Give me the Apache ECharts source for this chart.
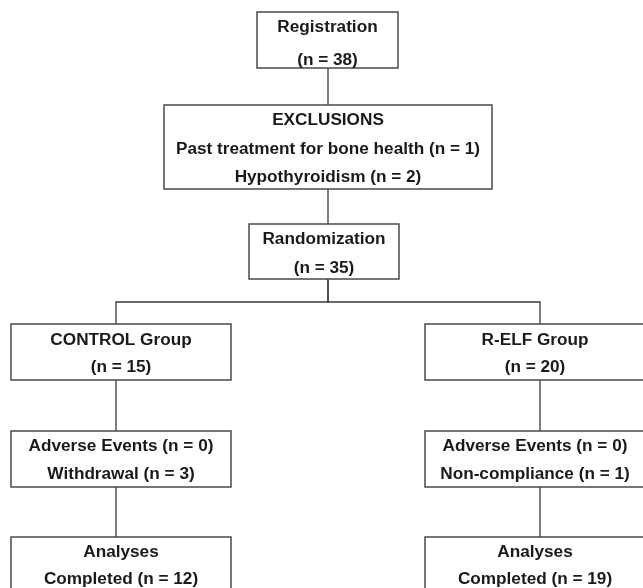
<!DOCTYPE html>
<html>
<head>
<meta charset="utf-8">
<title>Flow chart</title>
<script src="https://cdn.jsdelivr.net/npm/echarts@6/dist/echarts.min.js"></script>
<style>
  html, body { margin: 0; padding: 0; background: #fff; }
  #chart { width: 643px; height: 588px; }
</style>
</head>
<body>
<div id="chart"></div>
<script>
// study numbers
const registered = 38
const exclusionReasons = ['Past treatment for bone health', 'Hypothyroidism']
const exclusionCounts = [1, 2]
const randomized = 35
const groupNames = ['CONTROL Group', 'R-ELF Group']
const groupSizes = [15, 20]
const adverseEvents = [0, 0]
const dropoutReasons = ['Withdrawal', 'Non-compliance']
const dropoutCounts = [3, 1]
const completedCounts = [12, 19]

const n = (v) => '(n = ' + v + ')'

// text of every box, in the same order as the layout below
const nodeTexts = [
  ['Registration', n(registered)],
  ['EXCLUSIONS'].concat(exclusionReasons.map((r, i) => r + ' ' + n(exclusionCounts[i]))),
  ['Randomization', n(randomized)],
  [groupNames[0], n(groupSizes[0])],
  [groupNames[1], n(groupSizes[1])],
  ['Adverse Events ' + n(adverseEvents[0]), dropoutReasons[0] + ' ' + n(dropoutCounts[0])],
  ['Adverse Events ' + n(adverseEvents[1]), dropoutReasons[1] + ' ' + n(dropoutCounts[1])],
  ['Analyses', 'Completed ' + n(completedCounts[0])],
  ['Analyses', 'Completed ' + n(completedCounts[1])]
]

// layout (pixel space of the hidden axes): box edges, line height, text shift
const layout = [
  { x0: 257, x1: 398, y0: 12, y1: 68, lh: 33, dy: 3.5, col: 'mid' },
  { x0: 164, x1: 492, y0: 105, y1: 189, lh: 28.5, dy: 2, col: 'mid' },
  { x0: 249, x1: 399, y0: 224, y1: 279, lh: 29, dy: 2, col: 'mid' },
  { x0: 11, x1: 231, y0: 324, y1: 380, lh: 27, dy: 1.5, col: 'left' },
  { x0: 425, x1: 645, y0: 324, y1: 380, lh: 27, dy: 1.5, col: 'right' },
  { x0: 11, x1: 231, y0: 431, y1: 487, lh: 28, dy: 1.5, col: 'left' },
  { x0: 425, x1: 645, y0: 431, y1: 487, lh: 28, dy: 1.5, col: 'right' },
  { x0: 11, x1: 231, y0: 537, y1: 591, lh: 27, dy: 1.5, col: 'left' },
  { x0: 425, x1: 645, y0: 537, y1: 591, lh: 27, dy: 1.5, col: 'right' }
]
const spineX = { mid: 328, left: 116, right: 540 }
const busY = 302

// connections between boxes (index pairs)
const edges = [[0, 1], [1, 2], [2, 3], [2, 4], [3, 5], [4, 6], [5, 7], [6, 8]]

const edgeCoords = edges.map(([a, b]) => {
  const A = layout[a]
  const B = layout[b]
  const ax = spineX[A.col]
  const bx = spineX[B.col]
  if (ax === bx) return { coords: [[ax, A.y1], [bx, B.y0]] }
  return { coords: [[ax, A.y1], [ax, busY], [bx, busY], [bx, B.y0]] }
})

const chart = echarts.init(document.getElementById('chart'))

const option = {
  animation: false,
  grid: { left: 0, right: 0, top: 0, bottom: 0 },
  xAxis: { type: 'value', min: 0, max: 643, show: false },
  yAxis: { type: 'value', min: 0, max: 588, inverse: true, show: false },
  series: [
    {
      type: 'lines',
      coordinateSystem: 'cartesian2d',
      polyline: true,
      silent: true,
      lineStyle: { color: '#3a3a3a', width: 1.3, opacity: 1 },
      data: edgeCoords,
      z: 1
    },
    {
      type: 'custom',
      coordinateSystem: 'cartesian2d',
      silent: true,
      data: layout.map((b) => [b.x0, b.y0, b.x1, b.y1]),
      renderItem: function (params, api) {
        const p0 = api.coord([api.value(0), api.value(1)])
        const p1 = api.coord([api.value(2), api.value(3)])
        const box = layout[params.dataIndex]
        return {
          type: 'group',
          children: [
            {
              type: 'rect',
              shape: { x: p0[0], y: p0[1], width: p1[0] - p0[0], height: p1[1] - p0[1] },
              style: { fill: '#fff', stroke: '#4a4a4a', lineWidth: 1.5 }
            },
            {
              type: 'text',
              style: {
                text: nodeTexts[params.dataIndex].join('\n'),
                x: (p0[0] + p1[0]) / 2,
                y: (p0[1] + p1[1]) / 2 + box.dy,
                align: 'center',
                verticalAlign: 'middle',
                fill: '#1a1a1a',
                fontSize: 17.2,
                fontWeight: 'bold',
                fontFamily: 'Liberation Sans, Arial, sans-serif',
                lineHeight: box.lh
              }
            }
          ]
        }
      },
      z: 2
    }
  ]
}

chart.setOption(option)
</script>
</body>
</html>
